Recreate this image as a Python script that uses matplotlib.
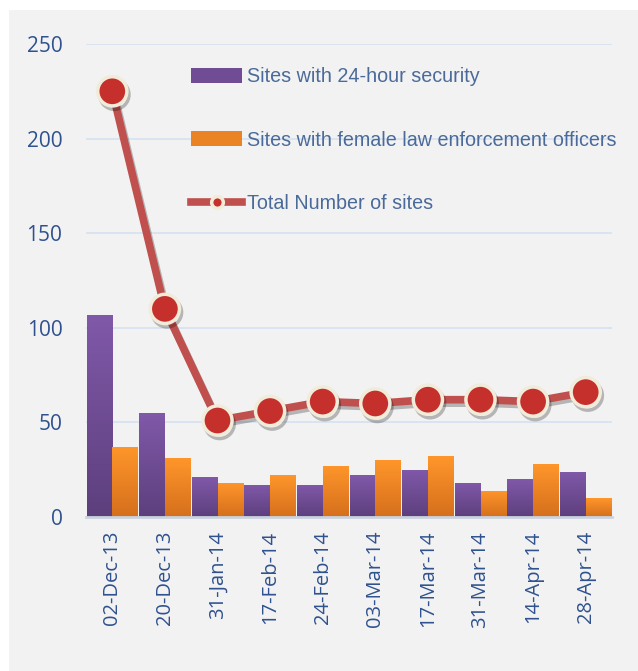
"""Biểu đồ số điểm có an ninh 24h / nữ cảnh sát và tổng số điểm."""
import matplotlib

matplotlib.use("Agg")
import matplotlib.pyplot as plt
import matplotlib.patheffects as pe
import numpy as np
from matplotlib.colors import LinearSegmentedColormap
from matplotlib.patches import Rectangle

dates = ["02-Dec-13", "20-Dec-13", "31-Jan-14", "17-Feb-14", "24-Feb-14",
         "03-Mar-14", "17-Mar-14", "31-Mar-14", "14-Apr-14", "28-Apr-14"]
security_24h = [107, 55, 21, 17, 17, 22, 25, 18, 20, 24]
female_officers = [37, 31, 18, 22, 27, 30, 32, 14, 28, 10]
total_sites = [225, 110, 51, 56, 61, 60, 62, 62, 61, 66]

TXT = "#2f528f"
BG = "#f2f2f2"

fig = plt.figure(figsize=(6.38, 6.71), dpi=100, facecolor="white")
fig.add_artist(Rectangle((9 / 638, 0), 1, 1 - 10 / 671, transform=fig.transFigure,
                         facecolor=BG, edgecolor="none", zorder=-10))
ax = fig.add_axes([86 / 638, 1 - 517 / 671, 526 / 638, 473 / 671])
ax.set_facecolor(BG)

x = np.arange(len(dates))
w = 0.49
purple = LinearSegmentedColormap.from_list("p", ["#5d3f7d", "#8059a9"])
orange = LinearSegmentedColormap.from_list("o", ["#d56f1c", "#ff962b"])
grad = np.linspace(0, 1, 100).reshape(-1, 1)


def gradient_bars(xs, vals, cmap, label):
    bars = ax.bar(xs, vals, width=w, color=cmap(0.5), label=label, zorder=2,
                  edgecolor="none")
    for b in bars:
        im = ax.imshow(grad, cmap=cmap, aspect="auto", origin="lower", zorder=2,
                       extent=[b.get_x(), b.get_x() + b.get_width(), 0, b.get_height()])
        im.set_clip_path(b)
    return bars


b1 = gradient_bars(x - w / 2, security_24h, purple, "Sites with 24-hour security")
b2 = gradient_bars(x + w / 2, female_officers, orange, "Sites with female law enforcement officers")

(ln,) = ax.plot(x, total_sites, color="#c0504d", lw=5.5, marker="o", ms=21,
                mfc="#c5302c", mec="#f1ebda", mew=2.5, zorder=4,
                label="Total Number of sites",
                path_effects=[pe.SimpleLineShadow(offset=(1.5, -2.5), alpha=0.25), pe.Normal()])

ax.set_xlim(-0.5, len(dates) - 0.5)
ax.set_ylim(0, 250)
ax.set_yticks(range(0, 251, 50))
ax.yaxis.grid(True, color="#d6e2f0", lw=1.2, zorder=0)
ax.set_axisbelow(True)
for s in ["top", "right", "left"]:
    ax.spines[s].set_visible(False)
ax.spines["bottom"].set_color("#c9d3df")
ax.spines["bottom"].set_linewidth(2)
ax.tick_params(axis="both", length=0, labelcolor=TXT)
ax.tick_params(axis="y", pad=17, labelsize=15)
ax.tick_params(axis="x", pad=10, labelsize=14.5)
ax.set_xticks(x)
ax.set_xticklabels(dates, rotation=90, fontfamily="Open Sans")
for t in ax.get_yticklabels():
    t.set_fontfamily("Open Sans")

leg = ax.legend([b1, b2, ln], [b1.get_label(), b2.get_label(), ln.get_label()],
                loc="upper left", bbox_to_anchor=(0.2, 0.951), frameon=False,
                borderpad=0, borderaxespad=0, markerscale=0.4,
                labelspacing=2.25, handlelength=2.6, handletextpad=0.25,
                handleheight=0.8,
                prop={"family": "Liberation Sans", "size": 14.2})
for t in leg.get_texts():
    t.set_color("#4a6a9a")
for h in leg.legend_handles[2:]:
    h.set_path_effects([])

fig.savefig("out.png", dpi=100, facecolor=fig.get_facecolor())
plt.close(fig)
